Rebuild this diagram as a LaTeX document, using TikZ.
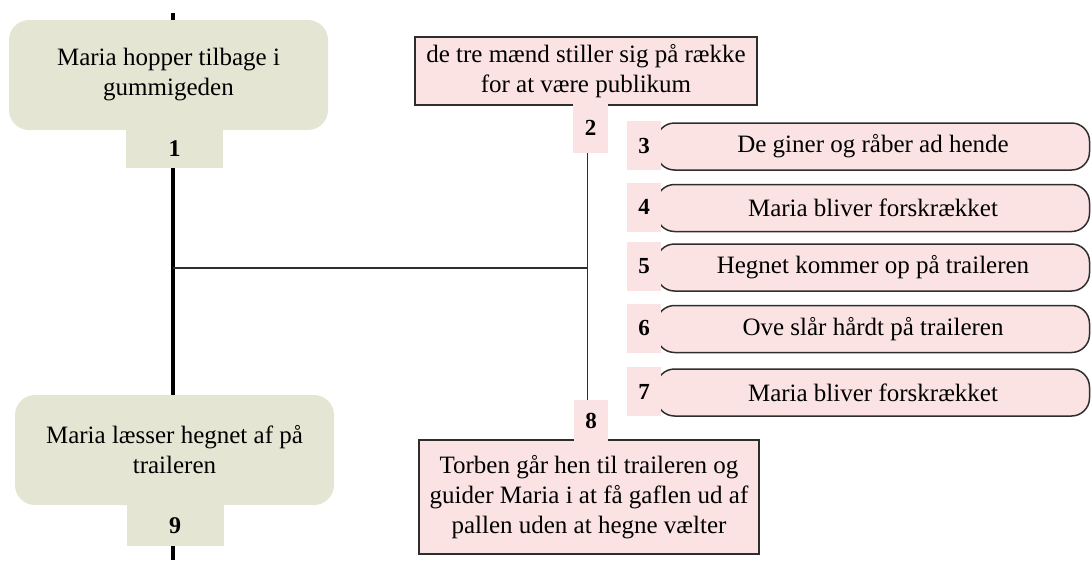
\documentclass[tikz,border=0pt]{standalone}
\usepackage{fontspec}
\setmainfont{Liberation Serif}
\definecolor{evgreen}{HTML}{E4E6D3}
\definecolor{evpink}{HTML}{FBE3E3}
\definecolor{edge}{HTML}{2E2E2E}
\tikzset{
  greenbox/.style={fill=evgreen, rounded corners=20pt, minimum width=319pt, minimum height=110pt,
    align=center, font=\fontsize{25}{30}\selectfont},
  greentab/.style={fill=evgreen, minimum width=97pt, font=\fontsize{24}{28}\selectfont\bfseries},
  pinkbox/.style={fill=evpink, draw=edge, line width=1.5pt, align=center, font=\fontsize{25}{30}\selectfont},
  pinktab/.style={fill=evpink, minimum width=35pt, font=\fontsize{23}{28}\selectfont\bfseries},
  itembox/.style={fill=evpink, draw=edge, line width=1.5pt, rounded corners=18pt,
    minimum width=433pt, minimum height=47pt, font=\fontsize{25}{30}\selectfont},
  itemtab/.style={pinktab, minimum width=34pt, minimum height=49pt},
  spine/.style={line width=3.2pt, black},
  link/.style={line width=1.5pt, edge},
}
\begin{document}
\begin{tikzpicture}[x=1pt, y=-1pt, every node/.style={inner sep=0pt, outer sep=0pt}]
\useasboundingbox (0,0) rectangle (1092,560);

% main storyline (left)
\node[greenbox] (m1) at (168.5,75) {Maria hopper tilbage i\\gummigeden};
\node[greentab, minimum height=38pt] (t1) at (174.5,149) {1};
\node[greenbox] (m9) at (174.5,450) {Maria læsser hegnet af på\\traileren};
\node[greentab, minimum height=41pt] (t9) at (175,525.5) {9};

\coordinate (top) at (173,13);
\coordinate (bot) at (173,560);
\coordinate (jl) at (173,268);
\coordinate (jr) at (587.5,268);

% side branch
\node[pinkbox, minimum width=342pt, minimum height=68pt] (s2) at (586,71)
  {de tre mænd stiller sig på række\\for at være publikum};
\node[pinktab, minimum height=50pt] (t2) at (590.5,128) {2};

\node[pinkbox, minimum width=340pt, minimum height=114pt] (s8) at (589,497)
  {Torben går hen til traileren og\\guider Maria i at få gaflen ud af\\pallen uden at hegne vælter};
\node[pinktab, minimum width=34pt, minimum height=41pt] (t8) at (591,420.5) {8};

% sub-events
\foreach \n/\txt/\y in {3/De giner og råber ad hende/145.5,
                        4/Maria bliver forskrækket/207,
                        5/Hegnet kommer op på traileren/266.5,
                        6/Ove slår hårdt på traileren/328,
                        7/Maria bliver forskrækket/391.5}{
  \node[itembox] (e\n) at (873,\y+1) {\txt};
  \node[itemtab] (n\n) at (644,\y) {\n};
}

% connectors
\draw[spine] (top) -- (top |- m1.north);
\draw[spine] (top |- t1.south) -- (top |- m9.north);
\draw[spine] (top |- t9.south) -- (bot);
\draw[link] (jl) -- (jr);
\draw[link] (jr |- t2.south) -- (jr |- t8.north);
\end{tikzpicture}
\end{document}
